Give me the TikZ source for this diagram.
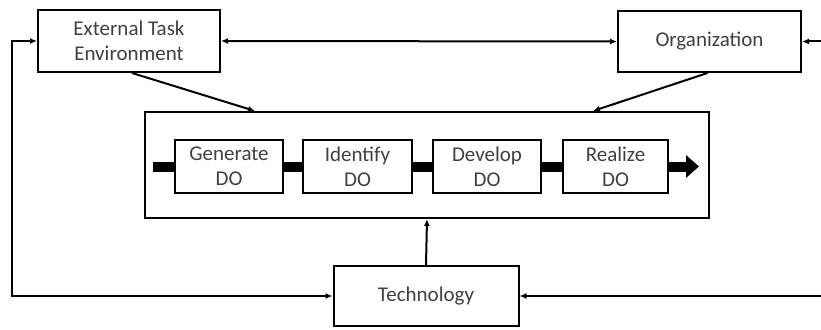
\documentclass[tikz,border=0pt]{standalone}
\usepackage{fontspec}
\setmainfont{Carlito}
\usetikzlibrary{arrows.meta}
\definecolor{txt}{HTML}{404040}
\tikzset{
  box/.style={draw=black, line width=2pt, fill=white, inner sep=0pt, align=center,
    text=txt, font=\fontsize{21}{25}\selectfont},
  conn/.style={line width=2pt, {Latex[length=7pt,width=6pt]}-{Latex[length=7pt,width=6pt]}},
  arr/.style={line width=2pt, -{Latex[length=7pt,width=6pt]}},
  bar/.style={line width=10pt},
}
\begin{document}
\begin{tikzpicture}[x=1pt,y=-1pt]
\useasboundingbox (0,0) rectangle (821,329);
\node[box, minimum width=182pt, minimum height=62pt] (ete) at (129,41) {External Task\\Environment};
\node[box, minimum width=183pt, minimum height=61pt] (org) at (709.5,41.5) {Organization};
\node[box, minimum width=564pt, minimum height=106pt] (frame) at (427,165) {};
\node[box, minimum width=185pt, minimum height=60pt] (tech) at (426,296) {Technology};
\node[box, minimum width=108pt, minimum height=53pt] (gen) at (229,166.5) {Generate\\DO};
\node[box, minimum width=109pt, minimum height=53pt] (ide) at (357.5,166.5) {Identify\\DO};
\node[box, minimum width=108pt, minimum height=53pt] (dev) at (487,166.5) {Develop\\DO};
\node[box, minimum width=105pt, minimum height=53pt] (rea) at (615.5,166.5) {Realize\\DO};
\coordinate (bs) at (153,166.5);
\coordinate (be) at (699,166.5);
\coordinate (lx) at (12,0);
\coordinate (rx) at (823,0);
% thick process bar
\draw[bar] (bs) -- (gen.west);
\draw[bar] (gen.east) -- (ide.west);
\draw[bar] (ide.east) -- (dev.west);
\draw[bar] (dev.east) -- (rea.west);
\draw[bar, -{Triangle[length=13pt,width=22pt]}] (rea.east) -- (be);
% connectors
\draw[conn] (ete.east) -- (org.west);
\draw[conn] (ete.west) -- (lx |- ete.west) -- (lx |- tech.west) -- (tech.west);
\draw[conn] (org.east) -- (rx |- org.east) -- (rx |- tech.east) -- (tech.east);
\draw[arr] ([xshift=3pt]ete.south) -- ([xshift=-172pt]frame.north);
\draw[arr] ([xshift=-2pt]org.south) -- ([xshift=166pt]frame.north);
\draw[arr] (tech.north) -- (frame.south);
\end{tikzpicture}
\end{document}
